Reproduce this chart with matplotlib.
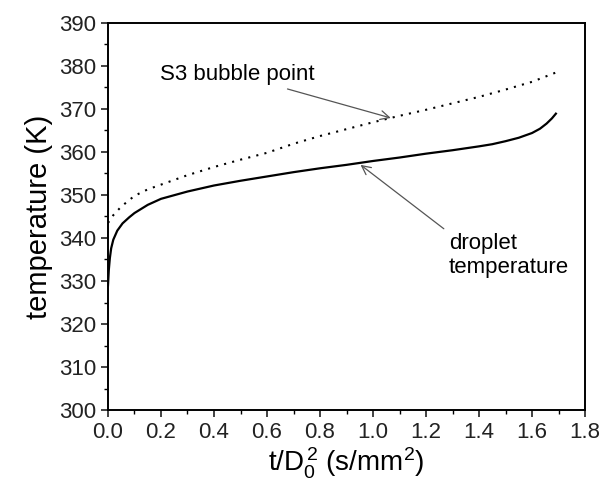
import matplotlib.pyplot as plt
from matplotlib.ticker import MultipleLocator

plt.rcParams['font.family'] = ['Liberation Sans', 'DejaVu Sans']
plt.rcParams['mathtext.fontset'] = 'custom'
plt.rcParams['mathtext.rm'] = 'Liberation Sans'
plt.rcParams['mathtext.it'] = 'Liberation Sans'

# droplet temperature (solid line)
t_drop = [0.0, 0.003, 0.007, 0.012, 0.02, 0.035, 0.055, 0.08, 0.1, 0.15, 0.2, 0.3, 0.4,
          0.5, 0.6, 0.7, 0.8, 0.9, 1.0, 1.1, 1.2, 1.3, 1.4, 1.45, 1.5, 1.55, 1.6,
          1.63, 1.655, 1.675, 1.69]
T_drop = [329.0, 332.5, 335.3, 337.6, 339.6, 341.7, 343.4, 344.8, 345.8, 347.7, 349.1,
          350.8, 352.2, 353.3, 354.3, 355.3, 356.2, 357.0, 357.9, 358.7, 359.6, 360.4,
          361.3, 361.8, 362.5, 363.3, 364.4, 365.4, 366.6, 367.8, 368.9]

# S3 bubble point (dotted line)
t_bub = [0.0, 0.02, 0.05, 0.1, 0.15, 0.2, 0.3, 0.4, 0.5, 0.6, 0.7, 0.8, 0.9, 1.0,
         1.1, 1.2, 1.3, 1.4, 1.5, 1.6, 1.7]
T_bub = [343.5, 345.3, 347.3, 349.8, 351.3, 352.4, 354.6, 356.5, 358.2, 359.8, 361.9,
         363.7, 365.3, 366.9, 368.4, 369.8, 371.3, 372.8, 374.5, 376.3, 378.7]

fig = plt.figure(figsize=(6.05, 4.87), dpi=100)
ax = fig.add_axes([0.1785, 0.158, 0.7885, 0.795])

ax.plot(t_drop, T_drop, color='black', linewidth=1.6)
ax.plot(t_bub, T_bub, color='black', linewidth=1.5, linestyle=(0, (1, 3)))

ax.set_xlim(0, 1.8)
ax.set_ylim(300, 390)
ax.xaxis.set_major_locator(MultipleLocator(0.2))
ax.xaxis.set_minor_locator(MultipleLocator(0.1))
ax.yaxis.set_major_locator(MultipleLocator(10))
ax.yaxis.set_minor_locator(MultipleLocator(5))
ax.xaxis.set_major_formatter(plt.FormatStrFormatter('%.1f'))
ax.tick_params(which='major', direction='out', length=5, width=1.2, labelsize=16, colors='#222222')
ax.tick_params(which='minor', direction='out', length=3, width=1.0)
for s in ax.spines.values():
    s.set_linewidth(1.4)

ax.set_xlabel(r't/D$_0^{\,2}$ (s/mm$^2$)', fontsize=20, labelpad=2)
ax.set_ylabel('temperature (K)', fontsize=21, labelpad=4)

ax.annotate('S3 bubble point', xy=(1.067, 367.9), xytext=(0.197, 377.9),
            fontsize=16, ha='left', va='center',
            arrowprops=dict(arrowstyle='->', color='#555555', lw=0.9, shrinkA=2, shrinkB=0))
ax.annotate('droplet\ntemperature', xy=(0.953, 357.0), xytext=(1.286, 336.0),
            fontsize=16, ha='left', va='center', multialignment='left',
            arrowprops=dict(arrowstyle='->', color='#555555', lw=0.9,
                            relpos=(0.0, 1.0), shrinkA=2, shrinkB=0))

plt.savefig('out.png', dpi=100)
